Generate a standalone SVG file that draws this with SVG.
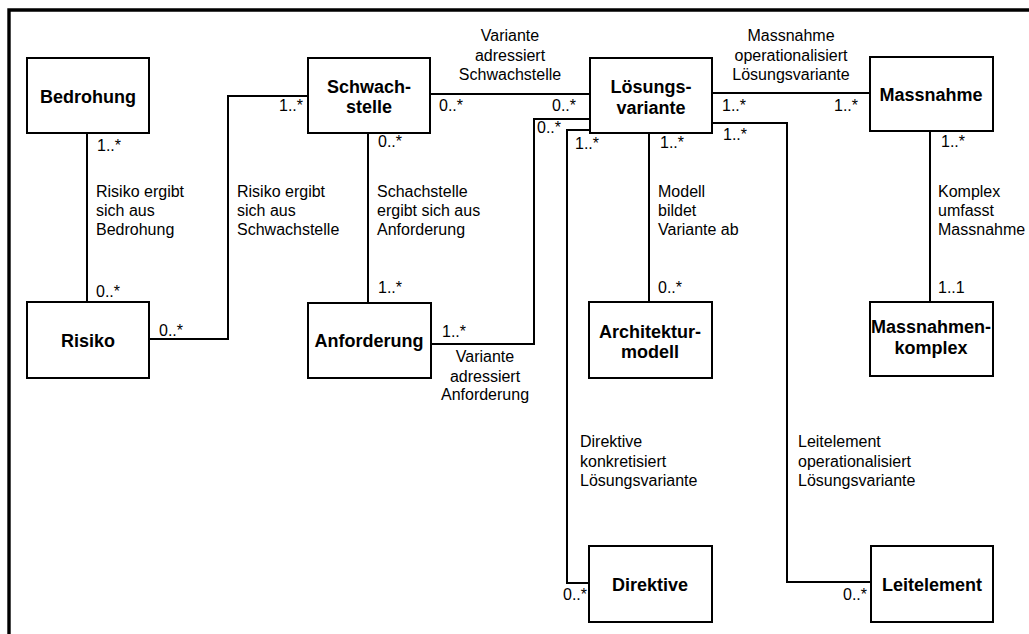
<svg xmlns="http://www.w3.org/2000/svg" width="1029" height="634" viewBox="0 0 1029 634">
  <style>
    .frame { fill: none; stroke: #000; stroke-width: 3.4; }
    .box { fill: #fff; stroke: #000; stroke-width: 2; }
    .title { font-family: "Liberation Sans", Arial, sans-serif; font-size: 18px; font-weight: bold; text-anchor: middle; fill: #000; }
    .lbl { font-family: "Liberation Sans", Arial, sans-serif; font-size: 16px; fill: #000; }
    .mid { text-anchor: middle; }
    .conn { fill: none; stroke: #000; stroke-width: 2; }
  </style>
  <rect width="1029" height="634" fill="#fff"/>
  <!-- outer frame (top and left edges) -->
  <path class="frame" d="M9,634 V10 H1029"/>

  <!-- associations -->
  <g id="connectors">
    <path class="conn" d="M87,133 V302"/>
    <path class="conn" d="M149,339 H228 V96 H308"/>
    <path class="conn" d="M430,94 H590"/>
    <path class="conn" d="M368,133 V303"/>
    <path class="conn" d="M431,344 H534 V119 H590"/>
    <path class="conn" d="M590,130 H567 V583 H589"/>
    <path class="conn" d="M712,93 H870"/>
    <path class="conn" d="M712,123 H787 V582 H871"/>
    <path class="conn" d="M649,133 V302"/>
    <path class="conn" d="M930,131 V302"/>

    <!-- multiplicities -->
    <text class="lbl" x="97" y="151">1..*</text>
    <text class="lbl" x="96" y="297">0..*</text>
    <text class="lbl" x="159" y="336">0..*</text>
    <text class="lbl" x="279" y="111">1..*</text>
    <text class="lbl" x="439" y="111">0..*</text>
    <text class="lbl" x="552" y="111">0..*</text>
    <text class="lbl" x="537" y="133">0..*</text>
    <text class="lbl" x="575" y="149">1..*</text>
    <text class="lbl" x="378" y="147">0..*</text>
    <text class="lbl" x="378" y="293">1..*</text>
    <text class="lbl" x="442" y="337">1..*</text>
    <text class="lbl" x="722" y="111">1..*</text>
    <text class="lbl" x="834" y="111">1..*</text>
    <text class="lbl" x="660" y="148">1..*</text>
    <text class="lbl" x="723" y="140">1..*</text>
    <text class="lbl" x="658" y="293">0..*</text>
    <text class="lbl" x="941" y="147">1..*</text>
    <text class="lbl" x="938" y="293">1..1</text>
    <text class="lbl" x="563" y="600">0..*</text>
    <text class="lbl" x="843" y="600">0..*</text>

    <!-- association names -->
    <text class="lbl" x="96" y="197">Risiko ergibt<tspan x="96" dy="19">sich aus</tspan><tspan x="96" dy="19">Bedrohung</tspan></text>
    <text class="lbl" x="237" y="197">Risiko ergibt<tspan x="237" dy="19">sich aus</tspan><tspan x="237" dy="19">Schwachstelle</tspan></text>
    <text class="lbl mid" x="510" y="41">Variante<tspan x="510" dy="20">adressiert</tspan><tspan x="510" dy="19">Schwachstelle</tspan></text>
    <text class="lbl" x="377" y="197">Schachstelle<tspan x="377" dy="19">ergibt sich aus</tspan><tspan x="377" dy="19">Anforderung</tspan></text>
    <text class="lbl mid" x="485" y="362">Variante<tspan x="485" dy="20">adressiert</tspan><tspan x="485" dy="18">Anforderung</tspan></text>
    <text class="lbl mid" x="791" y="41">Massnahme<tspan x="791" dy="20">operationalisiert</tspan><tspan x="791" dy="19">Lösungsvariante</tspan></text>
    <text class="lbl" x="658" y="197">Modell<tspan x="658" dy="19">bildet</tspan><tspan x="658" dy="19">Variante ab</tspan></text>
    <text class="lbl" x="938" y="197">Komplex<tspan x="938" dy="19">umfasst</tspan><tspan x="938" dy="19">Massnahme</tspan></text>
    <text class="lbl" x="580" y="447">Direktive<tspan x="580" dy="20">konkretisiert</tspan><tspan x="580" dy="19">Lösungsvariante</tspan></text>
    <text class="lbl" x="798" y="447">Leitelement<tspan x="798" dy="20">operationalisiert</tspan><tspan x="798" dy="19">Lösungsvariante</tspan></text>
  </g>

  <!-- classes -->
  <g id="bedrohung">
    <rect class="box" x="27" y="58" width="122" height="75"/>
    <text class="title" x="88" y="103">Bedrohung</text>
  </g>
  <g id="schwachstelle">
    <rect class="box" x="308" y="58" width="122" height="75"/>
    <text class="title" x="369" y="93">Schwach-<tspan x="369" dy="20">stelle</tspan></text>
  </g>
  <g id="loesungsvariante">
    <rect class="box" x="590" y="58" width="122" height="75"/>
    <text class="title" x="651" y="93">Lösungs-<tspan x="651" dy="21">variante</tspan></text>
  </g>
  <g id="massnahme">
    <rect class="box" x="870" y="57" width="123" height="74"/>
    <text class="title" x="931" y="101">Massnahme</text>
  </g>
  <g id="risiko">
    <rect class="box" x="27" y="302" width="122" height="76"/>
    <text class="title" x="88" y="347">Risiko</text>
  </g>
  <g id="anforderung">
    <rect class="box" x="308" y="303" width="123" height="75"/>
    <text class="title" x="369" y="347">Anforderung</text>
  </g>
  <g id="architekturmodell">
    <rect class="box" x="589" y="302" width="123" height="76"/>
    <text class="title" x="650" y="338">Architektur-<tspan x="650" dy="20">modell</tspan></text>
  </g>
  <g id="massnahmenkomplex">
    <rect class="box" x="870" y="302" width="123" height="74"/>
    <text class="title" x="931" y="333">Massnahmen-<tspan x="931" dy="21">komplex</tspan></text>
  </g>
  <g id="direktive">
    <rect class="box" x="589" y="546" width="123" height="76"/>
    <text class="title" x="650" y="591">Direktive</text>
  </g>
  <g id="leitelement">
    <rect class="box" x="871" y="546" width="122" height="76"/>
    <text class="title" x="932" y="591">Leitelement</text>
  </g>
</svg>
